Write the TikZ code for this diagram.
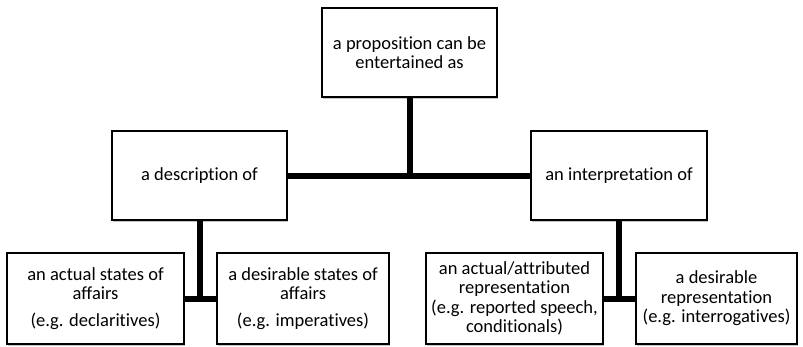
\documentclass[tikz,border=0pt]{standalone}
\usepackage{fontspec}
\setmainfont{Carlito}[Ligatures=NoCommon]
\usetikzlibrary{shadows}
\begin{document}
\begin{tikzpicture}[x=1pt,y=-1pt,
  box/.style={draw=black, line width=1.3pt, fill=white, align=center,
    inner sep=2pt, font=\fontsize{18.5}{19.5}\selectfont,
    drop shadow={shadow xshift=0.8pt, shadow yshift=-1.6pt, fill=black, opacity=0.22}},
  link/.style={line width=6pt, draw=black}]
\useasboundingbox (0,0) rectangle (803,346);
\node[box, minimum width=175pt, minimum height=89pt] (top) at (409.5,52.5)
  {a proposition can be\\entertained as};
\node[box, minimum width=175pt, minimum height=89pt] (desc) at (199.5,175.5)
  {a description of};
\node[box, minimum width=176pt, minimum height=89pt] (interp) at (619,175.5)
  {an interpretation of};
\node[box, minimum width=177pt, minimum height=91pt] (actual) at (95.5,298.5)
  {an actual states of\\affairs\\[7pt](e.g. declaritives)};
\node[box, minimum width=172pt, minimum height=91pt] (desir) at (303,298.5)
  {a desirable states of\\affairs\\[7pt](e.g. imperatives)};
\node[box, minimum width=177pt, minimum height=91pt] (attr) at (514.5,298.5)
  {an actual/attributed\\representation\\(e.g. reported speech,\\conditionals)};
\node[box, minimum width=161pt, minimum height=91pt] (desrep) at (716.5,298.5)
  {a desirable\\representation\\(e.g. interrogatives)};
\coordinate (j1) at (top.south |- desc.east);
\coordinate (j2) at (desc.south |- actual.east);
\coordinate (j3) at (interp.south |- attr.east);
\draw[link] (top.south) -- (j1);
\draw[link] (desc.east) -- (interp.west);
\draw[link] (desc.south) -- (j2);
\draw[link] (actual.east) -- (desir.west);
\draw[link] (interp.south) -- (j3);
\draw[link] (attr.east) -- (desrep.west);
\end{tikzpicture}
\end{document}
